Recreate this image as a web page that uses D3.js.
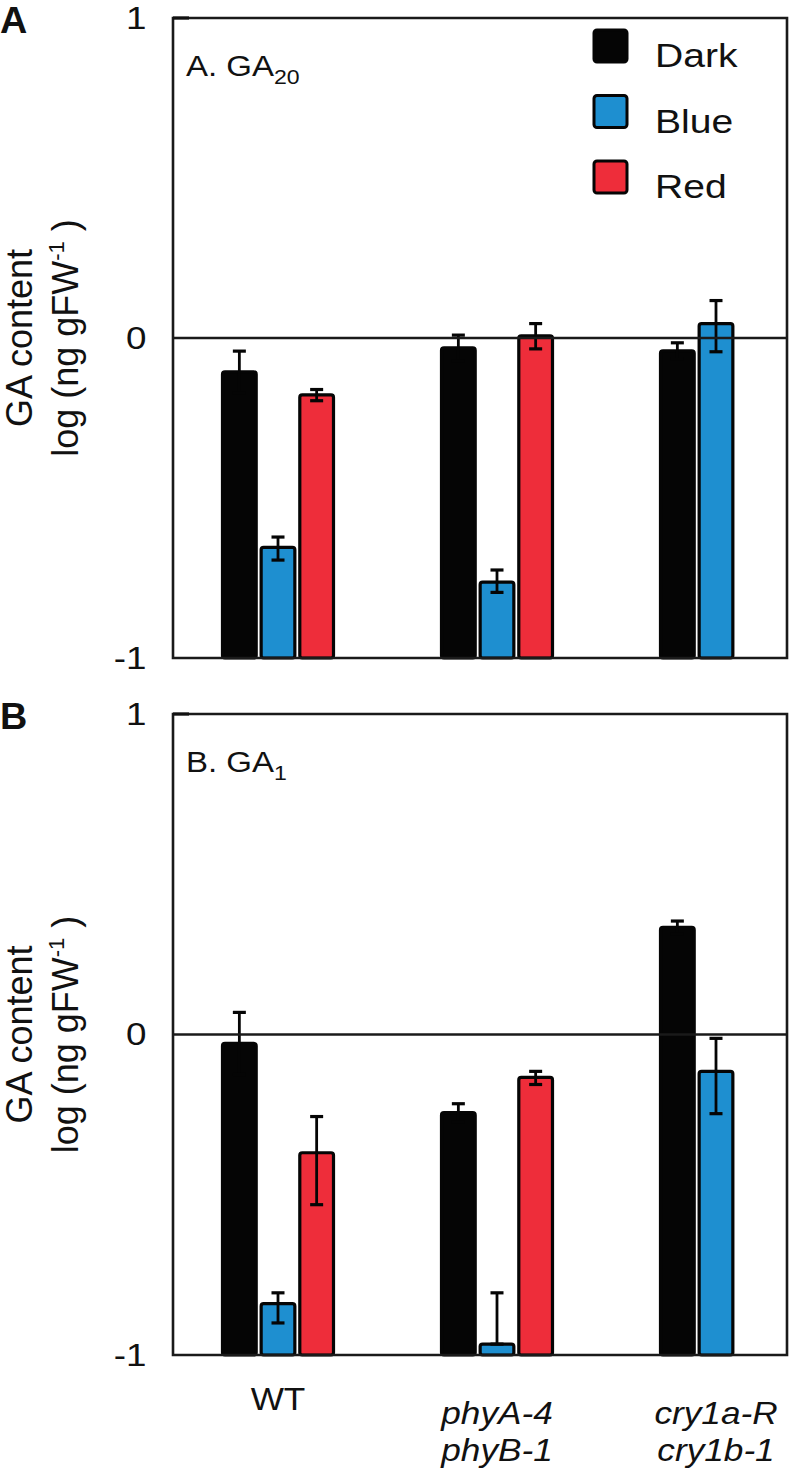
<!DOCTYPE html>
<html>
<head>
<meta charset="utf-8">
<script src="https://cdn.jsdelivr.net/npm/d3@7"></script>
<style>
  html, body { margin: 0; padding: 0; background: #fff; }
  svg text { font-family: "Liberation Sans", Arial, Helvetica, sans-serif; fill: #111; }
</style>
</head>
<body>
<svg id="chart" width="793" height="1471"></svg>
<script>
// ---------- data ----------
const categories = ["WT", "phyA-4 phyB-1", "cry1a-R cry1b-1"];
const categoryLines = [["WT"], ["phyA-4", "phyB-1"], ["cry1a-R", "cry1b-1"]];
const categoryItalic = [false, true, true];
const series = ["Dark", "Blue", "Red"];
const seriesColors = ["#050505", "#1e8fd0", "#ee2d3a"];
const yTicks = [-1, 0, 1];

// Panel A: GA20 (log ng gFW-1); null = not measured
const ga20Dark = [-0.106, -0.031, -0.040];
const ga20Blue = [-0.654, -0.763, 0.045];
const ga20Red  = [-0.178, 0.007, null];
// error bars as [up, down]
const ga20DarkErr = [[0.065, 0.065], [0.040, 0.040], [0.025, 0.025]];
const ga20BlueErr = [[0.032, 0.040], [0.038, 0.032], [0.072, 0.088]];
const ga20RedErr  = [[0.017, 0.018], [0.038, 0.041], null];

// Panel B: GA1
const ga1Dark = [-0.028, -0.244, 0.334];
const ga1Blue = [-0.840, -0.966, -0.115];
const ga1Red  = [-0.369, -0.134, null];
const ga1DarkErr = [[0.097, 0.097], [0.028, 0.028], [0.020, 0.020]];
const ga1BlueErr = [[0.034, 0.060], [0.160, 0.000], [0.103, 0.132]];
const ga1RedErr  = [[0.113, 0.162], [0.019, 0.022], null];

// ---------- layout ----------
const FONT = '"Liberation Sans", Arial, Helvetica, sans-serif';
const svg = d3.select("#chart");
const frameLeft = 173, frameRight = 787;

const x = d3.scalePoint().domain(categories).range([278, 716]);
const xInner = d3.scaleBand().domain(series).range([-57, 57]).paddingInner(0.05);

function stretchedText(g, tx, ty, sx, size) {
  return g.append("text").attr("transform", `translate(${tx},${ty}) scale(${sx},1)`)
    .attr("font-size", size);
}

function drawPanel(cfg) {
  const g = svg.append("g");
  const y = d3.scaleLinear().domain([-1, 1]).range([cfg.bottom, cfg.top]);

  // panel letter
  stretchedText(g, 0, cfg.top + 15, 1.05, 36).attr("font-weight", "bold").text(cfg.letter);

  // y axis tick labels
  const axis = d3.axisLeft(y).tickValues(yTicks).tickSize(0).tickPadding(23)
    .tickFormat(d => d === -1 ? "-1" : String(d));
  const ax = g.append("g").attr("transform", `translate(${frameLeft},0)`).call(axis);
  ax.select(".domain").remove();
  ax.selectAll("text").attr("font-size", 32).attr("font-family", FONT).attr("fill", "#111")
    .attr("transform", "scale(1.15,1)");

  // y axis title
  const cy = (cfg.top + cfg.bottom) / 2;
  g.append("text").attr("transform", `translate(32,${cy}) rotate(-90)`)
    .attr("text-anchor", "middle").attr("font-size", 36).text("GA content");
  const t2 = g.append("text").attr("transform", `translate(78,${cy}) rotate(-90)`)
    .attr("text-anchor", "middle").attr("font-size", 36);
  t2.append("tspan").text("log (ng gFW");
  t2.append("tspan").attr("font-size", 22).attr("dy", -14).text("-1");
  t2.append("tspan").attr("dy", 14).text(" )");

  // panel title
  const tt = stretchedText(g, 186, cfg.top + 58, 1.1, 30);
  tt.append("tspan").text(cfg.title);
  tt.append("tspan").attr("font-size", 21).attr("dy", 8).text(cfg.sub);

  // bars
  const vals = cfg.values, errs = cfg.errors;
  series.forEach((s, si) => {
    categories.forEach((c, ci) => {
      const v = vals[si][ci];
      if (v === null) return;
      const bx = x(c) + xInner(s);
      const bw = xInner.bandwidth();
      g.append("rect")
        .attr("x", bx + 1.5).attr("y", y(v))
        .attr("width", bw - 3).attr("height", y(-1) - y(v))
        .attr("rx", 2.5)
        .attr("fill", seriesColors[si]).attr("stroke", "#050505").attr("stroke-width", 3.2);
      const e = errs[si][ci];
      if (e) {
        const cx = bx + bw / 2;
        const yUp = y(v + e[0]), yDn = y(v - e[1]);
        g.append("line").attr("x1", cx).attr("x2", cx).attr("y1", yUp).attr("y2", yDn)
          .attr("stroke", "#050505").attr("stroke-width", 2.8);
        [yUp, yDn].forEach(yy => {
          g.append("line").attr("x1", cx - 6.5).attr("x2", cx + 6.5).attr("y1", yy).attr("y2", yy)
            .attr("stroke", "#050505").attr("stroke-width", 3.2);
        });
      }
    });
  });

  // frame
  g.append("path")
    .attr("d", `M${frameLeft},${y(-1)} L${frameLeft},${y(1)} L${frameRight},${y(1)} L${frameRight},${y(-1)} Z`)
    .attr("fill", "none").attr("stroke", "#1a1a1a").attr("stroke-width", 2.6);
  // short inner tick at top
  g.append("line").attr("x1", frameLeft).attr("x2", frameLeft + 16).attr("y1", y(1)).attr("y2", y(1))
    .attr("stroke", "#111").attr("stroke-width", 3.2);
  // zero line
  g.append("line").attr("x1", frameLeft).attr("x2", frameRight).attr("y1", y(0)).attr("y2", y(0))
    .attr("stroke", "#1a1a1a").attr("stroke-width", 2.6);

  // legend
  if (cfg.legend) {
    series.forEach((s, si) => {
      const ly = 30 + si * 65.5;
      g.append("rect").attr("x", 594).attr("y", ly).attr("width", 33).attr("height", 32)
        .attr("rx", 3).attr("fill", seriesColors[si]).attr("stroke", "#050505").attr("stroke-width", 3);
      stretchedText(g, 655, ly + 37, 1.15, 34).text(s);
    });
  }

  // category labels
  if (cfg.xLabels) {
    categories.forEach((c, ci) => {
      const lines = categoryLines[ci];
      lines.forEach((ln, li) => {
        const base = categoryItalic[ci] ? 1424 : 1410;
        stretchedText(g, x(c), base + li * 37, 1.1, 32)
          .attr("text-anchor", "middle")
          .attr("font-style", categoryItalic[ci] ? "italic" : "normal")
          .text(ln);
      });
    });
  }
}

drawPanel({ letter: "A", title: "A. GA", sub: "20", top: 18, bottom: 658,
  values: [ga20Dark, ga20Blue, ga20Red], errors: [ga20DarkErr, ga20BlueErr, ga20RedErr],
  legend: true, xLabels: false });
drawPanel({ letter: "B", title: "B. GA", sub: "1", top: 714, bottom: 1355,
  values: [ga1Dark, ga1Blue, ga1Red], errors: [ga1DarkErr, ga1BlueErr, ga1RedErr],
  legend: false, xLabels: true });
</script>
</body>
</html>
